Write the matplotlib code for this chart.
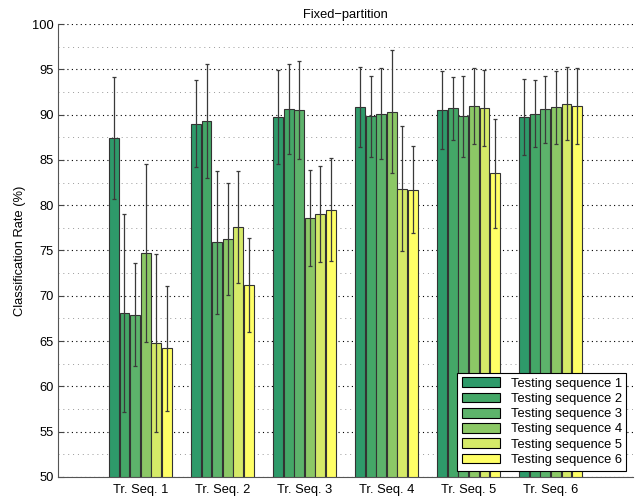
import numpy as np
import matplotlib
matplotlib.use('Agg')
import matplotlib.pyplot as plt
from matplotlib.ticker import MultipleLocator

plt.rcParams['font.family'] = ['Liberation Sans', 'DejaVu Sans']

# data
groups = ['Tr. Seq. 1', 'Tr. Seq. 2', 'Tr. Seq. 3', 'Tr. Seq. 4', 'Tr. Seq. 5', 'Tr. Seq. 6']
series = ['Testing sequence 1', 'Testing sequence 2', 'Testing sequence 3',
          'Testing sequence 4', 'Testing sequence 5', 'Testing sequence 6']

# rows = training sequence, cols = testing sequence
rate = np.array([
    [87.4, 68.1, 67.9, 74.7, 64.8, 64.2],
    [89.0, 89.3, 75.9, 76.3, 77.6, 71.2],
    [89.7, 90.6, 90.5, 78.6, 79.0, 79.5],
    [90.8, 89.8, 90.1, 90.3, 81.8, 81.7],
    [90.5, 90.7, 89.8, 90.9, 90.7, 83.5],
    [89.7, 90.1, 90.6, 90.8, 91.2, 90.9],
])
err = np.array([
    [6.7, 10.9, 5.7, 9.8, 9.8, 6.9],
    [4.8, 6.3, 7.9, 6.2, 6.2, 5.2],
    [5.2, 5.0, 5.4, 5.3, 5.3, 5.7],
    [4.4, 4.5, 5.0, 6.8, 6.9, 4.8],
    [4.3, 3.5, 4.5, 4.2, 4.2, 6.0],
    [4.2, 3.7, 3.7, 4.0, 4.0, 4.2],
])

colors = ['#2e9a6a', '#44a767', '#5db36b', '#8cc866', '#d5ea68', '#ffff66']
fs = 9.3

fig = plt.figure(figsize=(6.39, 4.99), dpi=100)
ax = fig.add_axes([0.0912, 0.0441, 0.899, 0.9078])

x = np.arange(1, len(groups) + 1)
pitch = 0.129
width = 0.12
n = len(series)
for j in range(n):
    pos = x + (j - (n - 1) / 2) * pitch
    ax.bar(pos, rate[:, j] - 50, width, bottom=50, color=colors[j],
           edgecolor='#333333', linewidth=0.8, label=series[j], zorder=3)
    ax.errorbar(pos, rate[:, j], yerr=err[:, j], fmt='none', ecolor='#3a3a3a',
                elinewidth=0.9, capsize=1.2, capthick=0.9, zorder=4)

ax.set_xlim(0, 7)
ax.set_ylim(50, 100)
ax.set_xticks(x)
ax.set_xticklabels(groups)
ax.yaxis.set_major_locator(MultipleLocator(5))
ax.yaxis.set_minor_locator(MultipleLocator(2.5))
ax.grid(True, which='major', axis='y', linestyle=(0, (1, 3)), color='black', linewidth=0.8, zorder=0)
ax.grid(True, which='minor', axis='y', linestyle=(0, (1, 4)), color='#999999', linewidth=0.7, zorder=0)
ax.tick_params(axis='both', which='major', direction='in', length=4, labelsize=fs, color='#444444')
ax.tick_params(axis='y', which='minor', length=0)
ax.tick_params(axis='x', pad=5)
for s in ['top', 'right']:
    ax.spines[s].set_visible(False)
for s in ['left', 'bottom']:
    ax.spines[s].set_color('#555555')
    ax.spines[s].set_linewidth(0.8)

ax.set_ylabel('Classification Rate (%)', fontsize=fs)
ax.set_title('Fixed\u2212partition', fontsize=fs, pad=4)

leg = ax.legend(loc='lower right', fontsize=fs, frameon=True, fancybox=False,
                edgecolor='black', framealpha=1, borderaxespad=0.5,
                handlelength=3.0, handleheight=0.8, labelspacing=0.22,
                borderpad=0.35, handletextpad=0.8)
leg.get_frame().set_linewidth(0.8)
for h in leg.legend_handles:
    h.set_edgecolor('black')

fig.savefig('out.png', dpi=100)
